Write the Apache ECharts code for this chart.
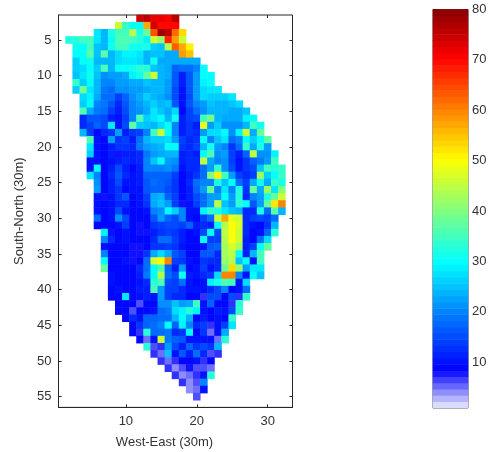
<!DOCTYPE html>
<html><head><meta charset="utf-8">
<style>html,body{margin:0;padding:0;background:#fff}#c{width:490px;height:452px}</style>
<script src="https://cdn.jsdelivr.net/npm/echarts@6/dist/echarts.min.js"></script>
</head><body><div id="c"></div>
<script>
const xName = 'West-East (30m)';
const yName = 'South-North (30m)';
const columns = Array.from({length:33},(_, i)=>i+1);
const rowsAxis = Array.from({length:55},(_, i)=>i+2);
const colorbarTicks = [10,20,30,40,50,60,70,80];
// first column of each row, from row 2 down to row 55
const firstCol = [12,9,6,2,3,3,3,3,3,3,3,4,4,4,4,4,4,5,5,5,5,5,5,6,6,6,6,6,6,6,7,7,7,7,7,7,8,8,8,8,9,9,10,11,11,12,13,14,15,16,17,18,19,20];
const cells = [
[74,76,72,72,71,76],
[46,34,30,30,57,74,70,70,70],
[28,24,32,35,35,44,32,38,64,78,76,62,53],
[32,33,35,35,28,24,30,36,36,35,33,29,47,42,68,58,46],
[31,30,35,25,24,31,35,35,31,31,32,26,25,44,63,57,51],
[30,30,37,25,37,24,27,29,29,28,24,25,25,23,23,58,55],
[26,30,31,24,24,24,27,28,28,27,24,31,23,23,23,23,23,23],
[26,27,30,26,36,24,30,30,31,33,33,25,24,23,17,18,18,20,30],
[25,28,31,25,21,22,22,23,29,31,38,46,24,23,16,11,16,22,30,30],
[34,26,30,24,20,20,22,22,23,23,25,24,24,22,16,11,16,22,29,30],
[26,39,28,24,19,18,21,21,22,22,23,24,24,22,15,10,16,22,27,28,28],
[27,29,23,18,18,14,17,21,23,26,24,23,21,15,10,15,22,27,26,26,26,28],
[26,30,20,19,16,12,16,20,22,24,26,24,25,16,10,16,20,22,25,24,24,25,27],
[36,23,19,18,14,11,15,20,21,23,28,25,23,27,9,14,18,21,24,24,24,23,23,25],
[12,16,16,15,11,10,14,20,36,26,28,30,24,31,11,14,15,35,39,24,23,23,23,29,30],
[12,14,17,15,28,10,15,37,26,25,24,27,30,20,11,13,11,48,22,26,21,21,21,24,35,31],
[24,14,9,12,13,22,11,13,14,20,35,46,30,20,11,13,12,22,27,27,30,21,29,46,23,38],
[36,10,9,22,13,14,11,18,24,26,26,27,22,14,12,13,30,20,25,28,18,20,30,26,30,37],
[28,10,9,11,13,13,12,19,22,23,24,30,30,13,12,14,24,31,22,20,13,18,34,23,32,22],
[26,10,9,11,8,11,11,12,19,22,23,24,24,11,12,11,30,36,21,22,14,11,17,45,21,21,29],
[10,10,9,10,11,12,11,12,20,25,30,22,21,11,12,12,45,23,20,21,14,10,13,17,19,22,35],
[10,30,9,11,15,11,9,11,20,20,20,21,19,10,12,12,18,22,34,21,15,10,13,15,25,35,33,34],
[28,20,9,12,16,12,10,11,17,17,17,17,14,9,11,13,18,40,51,35,22,14,12,14,43,26,30,34],
[21,9,11,15,10,10,11,16,18,17,16,13,9,12,18,20,20,32,25,30,18,14,23,31,23,34,32],
[22,9,11,13,9,10,10,16,17,17,15,13,9,11,17,22,38,20,28,20,32,13,38,23,43,28,40],
[10,8,10,13,16,9,10,14,23,24,17,14,9,11,15,18,22,22,30,22,33,12,20,22,32,38,46],
[10,9,10,12,12,9,10,13,23,25,22,14,8,10,14,18,22,45,25,22,33,30,16,22,38,52,60],
[10,9,10,15,10,9,9,10,20,21,30,26,20,10,10,29,34,32,28,25,24,12,12,32,18,37,24],
[18,9,10,21,15,9,9,9,16,22,17,15,20,10,9,14,18,46,57,48,46,12,14,15,14,18],
[9,9,9,10,14,9,8,9,13,14,15,15,14,17,11,12,11,30,44,50,47,12,10,9,13,24],
[29,8,9,10,9,8,8,11,13,14,13,11,9,10,15,30,15,45,50,46,12,9,10,17,33],
[20,12,9,10,9,9,9,12,18,18,14,11,9,9,30,14,14,44,50,46,11,9,18,27],
[10,9,9,9,8,8,9,13,13,14,13,10,9,9,10,16,17,43,47,43,11,14,30,38],
[20,9,9,9,8,8,13,23,27,23,16,14,9,9,16,16,12,43,45,30,11,24,35],
[30,9,9,10,8,9,18,47,50,60,14,13,10,9,13,12,12,42,44,25,30,10,35],
[38,9,9,9,9,12,18,30,36,17,11,22,9,10,14,10,12,38,53,42,22,28,28],
[10,9,9,9,11,19,30,44,18,15,31,11,10,12,13,27,60,60,20,10,30,25],
[10,9,9,9,10,12,33,36,15,14,18,10,9,10,29,32,36,35,10,27],
[9,10,9,9,11,11,36,22,14,14,12,10,10,10,12,15,20,9,10,18],
[9,9,28,9,10,11,10,22,14,12,12,9,9,7,15,15,9,15,7,34],
[9,9,9,6,9,9,21,21,25,22,23,35,10,17,9,9,7,33],
[9,9,6,9,9,10,18,19,27,29,33,29,10,9,11,10,15,34],
[9,12,10,17,17,18,18,24,30,24,9,11,9,10,9,34],
[9,13,17,18,20,30,17,29,20,12,14,7,10,14,28],
[9,7,33,18,18,19,12,13,30,9,13,5,10,23],
[9,5,10,46,19,17,16,10,10,10,10,5,33],
[33,6,7,22,15,11,17,13,15,13,24],
[7,5,25,10,16,11,18,12,6,7],
[7,5,7,9,9,10,7,9],
[7,4,6,8,6,6,5],
[7,4,5,7,10,33],
[7,4,6,20],
[4,5,10],
[6]
];
const stops = [[1,[255,255,255]],[9,[0,0,255]],[20,[0,128,255]],[30,[0,255,255]],[40,[128,255,128]],[50,[255,255,0]],[60,[255,128,0]],[70,[255,0,0]],[80,[128,0,0]]];
const vMin = 0.9, vMax = 80, levels = 64;
function colorAt(v){
  for(let i=1;i<stops.length;i++){
    if(v<=stops[i][0]){
      const a=stops[i-1],b=stops[i],t=Math.max(0,(v-a[0])/(b[0]-a[0]));
      return 'rgb('+a[1].map((c,k)=>Math.round(c+(b[1][k]-c)*t)).join(',')+')';
    }
  }
  return 'rgb(128,0,0)';
}
const levelValues = Array.from({length:levels},(_, i)=>vMin+(i+0.5)*(vMax-vMin)/levels);
const palette = levelValues.map(colorAt);
const heat = [];
cells.forEach((row,r)=>row.forEach((v,i)=>heat.push([firstCol[r]+i-1,r,v])));
const barData = levelValues.map((v,i)=>[0,i,v]);

const ink='#262626', txt='#333';
const lineS={lineStyle:{color:ink,width:1}};
const xCat=(pos,labels)=>({type:'category',data:columns,position:pos,gridIndex:0,boundaryGap:true,
  axisLine:{show:pos==='bottom',...lineS,onZero:false},
  axisTick:{show:true,inside:true,length:3,alignWithLabel:true,interval:(i,v)=>+v%10===0,...lineS},
  axisLabel:{show:labels,interval:(i,v)=>+v%10===0,color:txt,fontFamily:'Liberation Sans',fontSize:13,margin:8},
  splitLine:{show:false}});
const yCat=(pos,labels)=>({type:'category',inverse:true,data:rowsAxis,position:pos,gridIndex:0,
  axisLine:{show:pos==='left',...lineS,onZero:false},
  axisTick:{show:true,inside:true,length:3,alignWithLabel:true,interval:(i,v)=>+v%5===0,...lineS},
  axisLabel:{show:labels,interval:(i,v)=>+v%5===0,color:txt,fontFamily:'Liberation Sans',fontSize:13,margin:7},
  splitLine:{show:false}});
const cbVal=(pos,labels)=>({type:'value',gridIndex:1,min:vMin,max:vMax,position:pos,
  axisLine:{show:false},splitLine:{show:false},
  axisTick:{show:true,inside:true,length:4,customValues:colorbarTicks,...lineS},
  axisLabel:{show:labels,customValues:colorbarTicks,color:txt,fontFamily:'Liberation Sans',fontSize:13,margin:4}});

const chart=echarts.init(document.getElementById('c'),null,{renderer:'canvas'});
chart.setOption({
  animation:false,backgroundColor:'#fff',
  grid:[
    {left:58.5,top:15,width:234,height:392.4,show:true,borderColor:ink,borderWidth:1,backgroundColor:'#fff',containLabel:false,outerBoundsMode:'none'},
    {left:433,top:9.5,width:35,height:398.5,show:true,borderColor:'#444',borderWidth:1,backgroundColor:'#fff',containLabel:false,outerBoundsMode:'none'}
  ],
  xAxis:[
    {...xCat('bottom',true),name:xName,nameLocation:'middle',nameGap:29,
      nameTextStyle:{color:txt,fontFamily:'Liberation Sans',fontSize:13,padding:[0,22,0,0]}},
    xCat('top',false),
    {type:'category',gridIndex:1,data:['c'],show:false}
  ],
  yAxis:[
    {...yCat('left',true),name:yName,nameLocation:'middle',nameGap:33,
      nameTextStyle:{color:txt,fontFamily:'Liberation Sans',fontSize:13}},
    yCat('right',false),
    {type:'category',gridIndex:1,data:levelValues.map((v,i)=>i),show:false},
    cbVal('right',true),
    cbVal('left',false)
  ],
  visualMap:{show:false,type:'continuous',min:vMin,max:vMax,dimension:2,seriesIndex:[0,1],inRange:{color:palette}},
  series:[
    {type:'heatmap',xAxisIndex:0,yAxisIndex:0,data:heat,progressive:0,emphasis:{disabled:true}},
    {type:'heatmap',xAxisIndex:2,yAxisIndex:2,data:barData,progressive:0,emphasis:{disabled:true}}
  ]
});
</script></body></html>
